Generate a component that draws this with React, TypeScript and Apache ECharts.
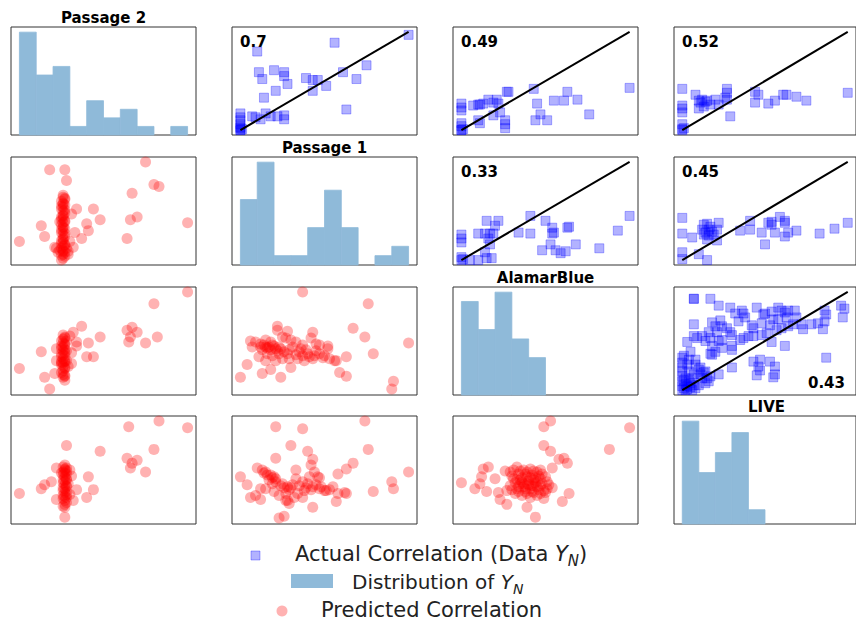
import React, { useEffect, useRef } from "react";
import * as echarts from "echarts";

// Variables of the scatter matrix (row/column order)
const VARIABLES = ["Passage 2", "Passage 1", "AlamarBlue", "LIVE"];

// Histogram bin edges (scaled units) and counts per variable
const BIN_EDGES = [0, 0.1, 0.2, 0.3, 0.4, 0.5, 0.6, 0.7, 0.8, 0.9, 1.0];
const HIST_PASSAGE2 = [12, 7, 8, 1, 4, 2, 3, 1, 0, 1];
const HIST_PASSAGE1 = [7, 11, 1, 1, 4, 8, 4, 0, 1, 2];
const HIST_ALAMAR = [10, 7, 11, 6, 4, 0, 0, 0, 0, 0];
const HIST_LIVE = [36, 18, 25, 32, 5, 0, 0, 0, 0, 0];

// Actual data pairs [column variable, row variable], scaled 0..1
const ACTUAL_P2_VS_P1: number[][] = [
  [1.0, 0.97], [0.56, 0.89], [0.1, 0.8], [0.11, 0.59], [0.13, 0.52], [0.2, 0.61], [0.26, 0.59],
  [0.26, 0.55], [0.28, 0.47], [0.21, 0.4], [0.14, 0.33], [0.39, 0.53], [0.43, 0.51], [0.46, 0.51],
  [0.43, 0.4], [0.51, 0.45], [0.61, 0.59], [0.69, 0.52], [0.75, 0.66], [0.63, 0.21], [0, 0.17],
  [0, 0.13], [0, 0.1], [0, 0.06], [0, 0.03], [0, 0], [0, 0], [0.01, 0.01], [0.07, 0.14],
  [0.12, 0.11], [0.15, 0.17], [0.18, 0.14], [0.22, 0.14], [0.26, 0.15], [0.26, 0.11], [0.09, 0.13],
  [0, 0.02],
];
const ACTUAL_P2_VS_AB: number[][] = [
  [1.0, 0.43], [0, 0.27], [0, 0.23], [0, 0.2], [0, 0.07], [0, 0.04], [0, 0], [0, 0], [0.01, 0.01],
  [0.07, 0.25], [0.1, 0.26], [0.13, 0.27], [0.16, 0.31], [0.21, 0.31], [0.22, 0.27], [0.23, 0.18],
  [0.19, 0.15], [0.1, 0.1], [0.11, 0.07], [0.27, 0.39], [0.28, 0.39], [0.26, 0.1], [0.26, 0.06],
  [0.26, 0.02], [0.43, 0.42], [0.45, 0.27], [0.47, 0.16], [0.44, 0.1], [0.51, 0.1], [0.55, 0.3],
  [0.61, 0.3], [0.63, 0.39], [0.69, 0.31], [0.76, 0.16], [0.11, 0.26], [0.19, 0.28],
];
const ACTUAL_P2_VS_LIVE: number[][] = [
  [0, 0.42], [0, 0.25], [0, 0.22], [0, 0.18], [0, 0.06], [0, 0.01], [0, 0], [0.08, 0.36],
  [0.1, 0.3], [0.12, 0.31], [0.14, 0.29], [0.1, 0.22], [0.13, 0.24], [0.17, 0.26], [0.2, 0.31],
  [0.22, 0.26], [0.27, 0.42], [0.27, 0.38], [0.26, 0.33], [0.27, 0.31], [0.29, 0.14], [0.44, 0.39],
  [0.46, 0.36], [0.44, 0.28], [0.52, 0.27], [0.56, 0.3], [0.61, 0.36], [0.63, 0.36], [0.69, 0.34],
  [0.75, 0.3], [1.0, 0.38], [0.11, 0.28], [0.15, 0.3], [0.01, 0.02],
];
const ACTUAL_P1_VS_AB: number[][] = [
  [1.0, 0.45], [0, 0.26], [0, 0.22], [0, 0.18], [0, 0.03], [0, 0], [0.05, 0], [0.1, 0],
  [0.15, 0.4], [0.22, 0.4], [0.2, 0.35], [0.1, 0.27], [0.14, 0.27], [0.17, 0.27], [0.19, 0.27],
  [0.16, 0.22], [0.17, 0.16], [0.14, 0.08], [0.15, 0.02], [0.18, 0.02], [0.34, 0.28], [0.41, 0.27],
  [0.41, 0.45], [0.5, 0.4], [0.54, 0.33], [0.54, 0.27], [0.55, 0.28], [0.63, 0.33], [0.64, 0.34],
  [0.53, 0.16], [0.48, 0.1], [0.56, 0.1], [0.59, 0.07], [0.62, 0.09], [0.68, 0.16], [0.82, 0.12],
  [0.93, 0.3], [0.01, 0.01],
];
const ACTUAL_P1_VS_LIVE: number[][] = [
  [0, 0.43], [0, 0.27], [0, 0.08], [0, 0.01], [0.06, 0.23], [0.1, 0.06], [0.15, 0], [0.13, 0.36],
  [0.15, 0.37], [0.17, 0.34], [0.12, 0.31], [0.14, 0.28], [0.16, 0.31], [0.18, 0.29], [0.21, 0.31],
  [0.13, 0.26], [0.16, 0.25], [0.19, 0.26], [0.15, 0.21], [0.21, 0.2], [0.22, 0.38], [0.35, 0.3],
  [0.41, 0.4], [0.41, 0.31], [0.48, 0.28], [0.5, 0.16], [0.52, 0.38], [0.54, 0.36], [0.54, 0.39],
  [0.59, 0.44], [0.62, 0.4], [0.62, 0.38], [0.56, 0.28], [0.62, 0.24], [0.64, 0.28], [0.69, 0.3],
  [0.83, 0.27], [0.92, 0.32], [1.0, 0.38],
];
const ACTUAL_AB_VS_LIVE: number[][] = [
  [0.07, 0.93], [0.07, 0.93], [0.17, 0.93], [0.22, 0.86], [0.29, 0.84], [0.32, 0.78], [0.36, 0.81],
  [0.37, 0.78], [0.34, 0.7], [0.38, 0.74], [0.45, 0.84], [0.49, 0.77], [0.5, 0.78], [0.54, 0.8],
  [0.58, 0.84], [0.6, 0.81], [0.62, 0.79], [0.64, 0.81], [0.68, 0.81], [0.63, 0.74], [0.69, 0.74],
  [0.55, 0.72], [0.58, 0.72], [0.86, 0.81], [0.87, 0.77], [0.96, 0.86], [0.98, 0.83], [0.97, 0.74],
  [0.86, 0.7], [0.82, 0.68], [0.78, 0.67], [0.72, 0.67], [0.73, 0.62], [0.64, 0.65], [0.67, 0.67],
  [0.6, 0.63], [0.57, 0.61], [0.53, 0.66], [0.48, 0.68], [0.51, 0.58], [0.48, 0.56], [0.54, 0.49],
  [0.62, 0.45], [0.85, 0.62], [0.43, 0.63], [0.42, 0.66], [0.4, 0.55], [0.43, 0.55], [0.37, 0.53],
  [0.35, 0.51], [0.3, 0.56], [0.29, 0.59], [0.27, 0.63], [0.24, 0.65], [0.23, 0.71], [0.18, 0.69],
  [0.2, 0.65], [0.07, 0.67], [0.21, 0.59], [0.16, 0.59], [0.17, 0.53], [0.12, 0.55], [0.07, 0.55],
  [0.09, 0.53], [0.03, 0.49], [0.14, 0.5], [0.22, 0.5], [0.24, 0.51], [0.18, 0.45], [0.3, 0.45],
  [0.3, 0.41], [0.05, 0.39], [0.01, 0.35], [0.2, 0.39], [0.17, 0.37], [0.18, 0.36], [0.24, 0.43],
  [0.3, 0.23], [0.22, 0.16], [0.13, 0.18], [0.43, 0.29], [0.47, 0.31], [0.46, 0.24], [0.47, 0.2],
  [0.45, 0.15], [0.53, 0.29], [0.56, 0.24], [0.56, 0.16], [0.55, 0.13], [0.87, 0.33],
  [0, 0.33], [0, 0.28], [0, 0.23], [0, 0.19], [0, 0.14], [0, 0.09], [0, 0.04], [0, 0],
  [0.03, 0.26], [0.04, 0.19], [0.06, 0.12], [0.05, 0.07], [0.03, 0.04], [0.02, 0], [0.08, 0.26],
  [0.1, 0.21], [0.11, 0.16], [0.12, 0.12], [0.1, 0.05], [0.08, 0.02], [0.06, 0], [0.14, 0.19],
  [0.15, 0.12], [0.14, 0.07], [0.16, 0.09], [0.17, 0.14], [0.04, 0.31], [0.08, 0.31], [0.02, 0.12],
  [0.07, 0.16], [0.11, 0.23], [0.01, 0.02], [0.03, 0.01], [0.05, 0.03], [0.02, 0.06], [0.04, 0.09],
  [0.07, 0.05], [0.01, 0.1],
];

// Predicted pairs [column variable, row variable], scaled 0..1
const PRED_P1_VS_P2: number[][] = [
  [0.26, 0.66], [0.26, 0.64], [0.27, 0.62], [0.25, 0.6], [0.26, 0.58], [0.27, 0.56], [0.26, 0.54],
  [0.25, 0.52], [0.26, 0.5], [0.27, 0.48], [0.26, 0.46], [0.25, 0.44], [0.26, 0.42], [0.27, 0.4],
  [0.26, 0.38], [0.25, 0.36], [0.26, 0.34], [0.27, 0.32], [0.26, 0.3], [0.25, 0.28], [0.26, 0.26],
  [0.27, 0.24], [0.26, 0.22], [0.25, 0.2], [0.26, 0.18], [0.27, 0.16], [0.26, 0.14], [0.25, 0.12],
  [0.26, 0.1], [0.27, 0.08], [0.26, 0.06], [0.25, 0.05], [0.27, 0.63], [0.26, 0.57], [0.27, 0.51],
  [0.26, 0.45], [0.27, 0.39], [0.26, 0.33], [0.27, 0.27], [0.26, 0.21], [0.27, 0.15], [0.26, 0.09],
  [0.25, 0.55], [0.25, 0.41], [0.25, 0.31], [0.25, 0.17], [0.28, 0.12], [0.23, 0.08], [0.29, 0.09],
  [0.22, 0.12], [0.27, 0.04], [0.26, 0.02],
  [0, 0.19], [0.18, 0.92], [0.27, 0.92], [0.28, 0.81], [0.75, 1.0], [0.8, 0.77], [0.83, 0.75],
  [0.67, 0.68], [1.0, 0.38], [0.66, 0.41], [0.7, 0.44], [0.64, 0.22], [0.48, 0.41], [0.44, 0.52],
  [0.4, 0.37], [0.41, 0.3], [0.37, 0.22], [0.34, 0.52], [0.33, 0.28], [0.13, 0.35], [0.15, 0.24],
  [0.24, 0.39], [0.25, 0], [0.21, 0.13], [0.32, 0.13], [0.29, 0.06], [0.24, 0.1], [0.3, 0.19],
  [0.31, 0.47],
];
const PRED_AB_VS_P2: number[][] = [
  [0.26, 0.56], [0.27, 0.54], [0.26, 0.52], [0.25, 0.5], [0.26, 0.48], [0.27, 0.46], [0.26, 0.44],
  [0.25, 0.42], [0.26, 0.4], [0.27, 0.38], [0.26, 0.36], [0.25, 0.34], [0.26, 0.32], [0.27, 0.3],
  [0.26, 0.28], [0.25, 0.26], [0.26, 0.24], [0.27, 0.22], [0.26, 0.2], [0.25, 0.18], [0.26, 0.16],
  [0.27, 0.14], [0.27, 0.53], [0.27, 0.47], [0.27, 0.41], [0.27, 0.35], [0.27, 0.29], [0.27, 0.23],
  [0.25, 0.45], [0.25, 0.37], [0.25, 0.29], [0.28, 0.5], [0.28, 0.4], [0.28, 0.3],
  [0, 0.22], [0.18, 0.01], [0.15, 0.13], [0.13, 0.39], [0.21, 0.17], [0.22, 0.42], [0.22, 0.3],
  [0.27, 0.1], [0.27, 0.15], [0.32, 0.59], [0.37, 0.65], [0.34, 0.49], [0.34, 0.45], [0.41, 0.48],
  [0.4, 0.34], [0.44, 0.34], [0.48, 0.54], [0.64, 0.61], [0.67, 0.64], [0.7, 0.59], [0.65, 0.49],
  [0.66, 0.54], [0.75, 0.48], [0.82, 0.54], [0.8, 0.88], [1.0, 1.0], [0.3, 0.55], [0.31, 0.38],
  [0.25, 0.28], [0.29, 0.24], [0.26, 0.13], [0.31, 0.27],
];
const PRED_LIVE_VS_P2: number[][] = [
  [0.27, 0.55], [0.26, 0.53], [0.27, 0.51], [0.28, 0.49], [0.27, 0.47], [0.26, 0.45], [0.27, 0.43],
  [0.28, 0.41], [0.27, 0.39], [0.26, 0.37], [0.27, 0.35], [0.28, 0.33], [0.27, 0.31], [0.26, 0.29],
  [0.27, 0.27], [0.28, 0.25], [0.27, 0.23], [0.26, 0.21], [0.27, 0.19], [0.28, 0.17], [0.27, 0.15],
  [0.26, 0.13], [0.27, 0.12], [0.28, 0.52], [0.28, 0.46], [0.28, 0.4], [0.28, 0.34], [0.28, 0.28],
  [0.28, 0.22], [0.26, 0.48], [0.26, 0.4], [0.26, 0.32], [0.26, 0.24], [0.27, 0.5],
  [0, 0.26], [0.65, 0.94], [0.83, 1.0], [1.0, 0.93], [0.28, 0.75], [0.48, 0.69], [0.8, 0.71],
  [0.64, 0.62], [0.67, 0.57], [0.7, 0.6], [0.66, 0.52], [0.75, 0.48], [0.41, 0.43], [0.44, 0.3],
  [0.4, 0.22], [0.27, 0.02], [0.13, 0.31], [0.15, 0.35], [0.19, 0.38], [0.22, 0.52], [0.22, 0.2],
  [0.32, 0.19], [0.34, 0.3], [0.31, 0.44], [0.3, 0.5], [0.25, 0.47], [0.29, 0.36], [0.3, 0.25],
];
const PRED_AB_VS_P1: number[][] = [
  [0.37, 1.0], [0.76, 0.88], [0.67, 0.63], [0.74, 0.54], [0.79, 0.37], [1.0, 0.48], [0.91, 0.09],
  [0.9, 0.01], [0, 0.13], [0.04, 0.26], [0.13, 0.17], [0.24, 0.13], [0.18, 0.21], [0.3, 0.23],
  [0.06, 0.5], [0.22, 0.65], [0.22, 0.61], [0.28, 0.6], [0.27, 0.53], [0.43, 0.59], [0.42, 0.53],
  [0.45, 0.47], [0.59, 0.18], [0.63, 0.14], [0.63, 0.34], [0.57, 0.3],
  [0.09, 0.49], [0.12, 0.47], [0.15, 0.51], [0.17, 0.44], [0.19, 0.46], [0.21, 0.42], [0.23, 0.44],
  [0.13, 0.41], [0.16, 0.37], [0.19, 0.35], [0.23, 0.37], [0.26, 0.39], [0.29, 0.41], [0.31, 0.44],
  [0.3, 0.51], [0.33, 0.49], [0.35, 0.39], [0.37, 0.35], [0.39, 0.41], [0.41, 0.34], [0.44, 0.35],
  [0.47, 0.37], [0.5, 0.35], [0.52, 0.42], [0.53, 0.32], [0.56, 0.3], [0.15, 0.3], [0.21, 0.3],
  [0.25, 0.32], [0.11, 0.34], [0.29, 0.32], [0.34, 0.32], [0.38, 0.3], [0.43, 0.32], [0.07, 0.44],
  [0.18, 0.49], [0.25, 0.54], [0.37, 0.46], [0.47, 0.46], [0.52, 0.45],
  [0.14, 0.46], [0.16, 0.43], [0.18, 0.41], [0.2, 0.45], [0.15, 0.44], [0.12, 0.44], [0.22, 0.4],
  [0.24, 0.42], [0.28, 0.37], [0.33, 0.36], [0.36, 0.42], [0.4, 0.37], [0.45, 0.4], [0.49, 0.33],
];
const PRED_LIVE_VS_P1: number[][] = [
  [0.74, 1.0], [0.21, 0.94], [0.37, 0.92], [0.3, 0.75], [0.4, 0.69], [0.76, 0.71], [0.21, 0.62],
  [0.43, 0.61], [0.42, 0.55], [0.67, 0.57], [0.63, 0.51], [0.58, 0.46], [1.0, 0.48], [0.9, 0.38],
  [0.91, 0.31], [0.79, 0.28], [0, 0.43], [0.04, 0.35], [0.06, 0.22], [0.12, 0.2], [0.23, 0.01],
  [0.26, 0.03], [0.43, 0.12], [0.57, 0.18], [0.63, 0.26], [0.62, 0.27], [0.51, 0.29], [0.53, 0.3],
  [0.1, 0.52], [0.13, 0.5], [0.15, 0.48], [0.18, 0.45], [0.2, 0.43], [0.17, 0.4], [0.21, 0.38],
  [0.25, 0.36], [0.28, 0.33], [0.3, 0.32], [0.27, 0.26], [0.23, 0.24], [0.2, 0.28], [0.15, 0.31],
  [0.12, 0.31], [0.09, 0.24], [0.27, 0.19], [0.29, 0.16], [0.28, 0.19], [0.33, 0.5], [0.33, 0.41],
  [0.37, 0.38], [0.39, 0.32], [0.38, 0.29], [0.41, 0.43], [0.44, 0.48], [0.46, 0.43], [0.47, 0.42],
  [0.34, 0.26], [0.37, 0.22], [0.32, 0.22], [0.43, 0.33], [0.47, 0.31], [0.5, 0.29], [0.55, 0.33],
  [0.58, 0.26],
  [0.14, 0.47], [0.16, 0.45], [0.19, 0.42], [0.21, 0.41], [0.24, 0.34], [0.26, 0.32], [0.29, 0.3],
  [0.31, 0.35], [0.35, 0.34], [0.4, 0.36], [0.45, 0.35], [0.48, 0.33], [0.19, 0.36], [0.42, 0.3],
];
const PRED_LIVE_VS_AB: number[][] = [
  [0.53, 1.0], [0.49, 0.94], [1.0, 0.93], [0.88, 0.71], [0.49, 0.75], [0.53, 0.69], [0.58, 0.61],
  [0.61, 0.62], [0.63, 0.57], [0.54, 0.52], [0.64, 0.26], [0.6, 0.18], [0.44, 0.02], [0.39, 0.12],
  [0, 0.37], [0.08, 0.31], [0.11, 0.36], [0.12, 0.43], [0.13, 0.51], [0.16, 0.53], [0.15, 0.28],
  [0.22, 0.27], [0.23, 0.2], [0.27, 0.15], [0.2, 0.41], [0.26, 0.49],
  [0.29, 0.48], [0.33, 0.53], [0.37, 0.5], [0.41, 0.51], [0.45, 0.48], [0.48, 0.46], [0.31, 0.41],
  [0.35, 0.4], [0.39, 0.43], [0.43, 0.4], [0.47, 0.41], [0.51, 0.38], [0.54, 0.32], [0.29, 0.34],
  [0.33, 0.31], [0.37, 0.33], [0.41, 0.31], [0.45, 0.33], [0.49, 0.29], [0.32, 0.26], [0.36, 0.24],
  [0.41, 0.22], [0.45, 0.24], [0.49, 0.21], [0.27, 0.29], [0.35, 0.36], [0.39, 0.36], [0.43, 0.34],
  [0.47, 0.34], [0.51, 0.31], [0.38, 0.28], [0.42, 0.28],
  [0.3, 0.44], [0.34, 0.46], [0.38, 0.46], [0.42, 0.45], [0.46, 0.44], [0.5, 0.43], [0.32, 0.37],
  [0.36, 0.38], [0.4, 0.39], [0.44, 0.37], [0.48, 0.36], [0.52, 0.35], [0.3, 0.3], [0.34, 0.33],
  [0.38, 0.31], [0.42, 0.34], [0.46, 0.3], [0.5, 0.27], [0.34, 0.28], [0.39, 0.26], [0.43, 0.27],
  [0.47, 0.26], [0.31, 0.5], [0.35, 0.49], [0.39, 0.48], [0.43, 0.49], [0.47, 0.5], [0.36, 0.42],
  [0.4, 0.35], [0.44, 0.42], [0.33, 0.4], [0.41, 0.42], [0.45, 0.38], [0.37, 0.36],
];

// Correlation coefficients of the actual data panels
const CORR_P2_P1 = "0.7";
const CORR_P2_AB = "0.49";
const CORR_P2_LIVE = "0.52";
const CORR_P1_AB = "0.33";
const CORR_P1_LIVE = "0.45";
const CORR_AB_LIVE = "0.43";

// Identity reference line drawn in the actual-data panels
const FIT_LINE = [[0, 0], [1, 1]];

const FONT = "'DejaVu Sans', sans-serif";
const GRID_LEFT = [11, 232, 453, 674];
const GRID_TOP = [27, 157, 287, 416];
const GRID_W = 185;
const GRID_H = 108;

const HISTS = [HIST_PASSAGE2, HIST_PASSAGE1, HIST_ALAMAR, HIST_LIVE];

type Cell = { kind: "hist" | "actual" | "pred"; data?: number[][]; corr?: string; corrPos?: "tl" | "br" };

const CELLS: Cell[][] = [
  [{ kind: "hist" }, { kind: "actual", data: ACTUAL_P2_VS_P1, corr: CORR_P2_P1 }, { kind: "actual", data: ACTUAL_P2_VS_AB, corr: CORR_P2_AB }, { kind: "actual", data: ACTUAL_P2_VS_LIVE, corr: CORR_P2_LIVE }],
  [{ kind: "pred", data: PRED_P1_VS_P2 }, { kind: "hist" }, { kind: "actual", data: ACTUAL_P1_VS_AB, corr: CORR_P1_AB }, { kind: "actual", data: ACTUAL_P1_VS_LIVE, corr: CORR_P1_LIVE }],
  [{ kind: "pred", data: PRED_AB_VS_P2 }, { kind: "pred", data: PRED_AB_VS_P1 }, { kind: "hist" }, { kind: "actual", data: ACTUAL_AB_VS_LIVE, corr: CORR_AB_LIVE, corrPos: "br" }],
  [{ kind: "pred", data: PRED_LIVE_VS_P2 }, { kind: "pred", data: PRED_LIVE_VS_P1 }, { kind: "pred", data: PRED_LIVE_VS_AB }, { kind: "hist" }],
];

const BLUE = "rgba(0,0,255,0.3)";
const RED = "rgba(255,0,0,0.3)";
const HIST_COLOR = "#8fbad9";

function buildOption() {
  const grid: any[] = [];
  const xAxis: any[] = [];
  const yAxis: any[] = [];
  const series: any[] = [];
  const graphic: any[] = [];

  for (let r = 0; r < 4; r++) {
    for (let c = 0; c < 4; c++) {
      const idx = r * 4 + c;
      const cell = CELLS[r][c];
      const left = GRID_LEFT[c];
      const top = GRID_TOP[r];
      grid.push({
        left, top, width: GRID_W, height: GRID_H,
        show: true, borderColor: "#333", borderWidth: 1, backgroundColor: "transparent",
        containLabel: false,
      });
      const hidden = { show: false };
      xAxis.push({ type: "value", gridIndex: idx, min: -0.05, max: 1.05, ...hidden, splitLine: { show: false } });
      if (cell.kind === "hist") {
        const counts = HISTS[r];
        const maxC = Math.max(...counts);
        yAxis.push({ type: "value", gridIndex: idx, min: 0, max: maxC * 1.05, ...hidden, splitLine: { show: false } });
        series.push({
          type: "custom",
          xAxisIndex: idx,
          yAxisIndex: idx,
          data: counts.map((n, k) => [BIN_EDGES[k], BIN_EDGES[k + 1], n]),
          encode: { x: [0, 1], y: 2 },
          renderItem: (params: any, api: any) => {
            if (api.value(2) <= 0) return null;
            const p0 = api.coord([api.value(0), api.value(2)]);
            const p1 = api.coord([api.value(1), 0]);
            return {
              type: "rect",
              shape: { x: p0[0], y: p0[1], width: p1[0] - p0[0], height: p1[1] - p0[1] },
              style: { fill: HIST_COLOR, stroke: HIST_COLOR, lineWidth: 0.8 },
            };
          },
        });
        graphic.push({
          type: "text",
          x: left + GRID_W / 2,
          y: top - 9,
          style: {
            text: VARIABLES[r], fill: "#000", fontFamily: FONT, fontWeight: "bold", fontSize: 15,
            align: "center", verticalAlign: "middle",
          },
        });
      } else {
        yAxis.push({ type: "value", gridIndex: idx, min: -0.05, max: 1.05, ...hidden, splitLine: { show: false } });
        if (cell.kind === "actual") {
          series.push({
            type: "scatter", xAxisIndex: idx, yAxisIndex: idx, data: cell.data,
            symbol: "rect", symbolSize: 9,
            itemStyle: { color: BLUE, borderColor: BLUE, borderWidth: 1, opacity: 1 },
          });
          series.push({
            type: "line", xAxisIndex: idx, yAxisIndex: idx, data: FIT_LINE,
            symbol: "none", lineStyle: { color: "#000", width: 2 },
          });
          const br = cell.corrPos === "br";
          graphic.push({
            type: "text",
            x: br ? left + GRID_W - 14 : left + 8,
            y: br ? top + 96 : top + 15,
            style: {
              text: cell.corr, fill: "#000", fontFamily: FONT, fontWeight: "bold", fontSize: 15,
              align: br ? "right" : "left", verticalAlign: "middle",
            },
          });
        } else {
          series.push({
            type: "scatter", xAxisIndex: idx, yAxisIndex: idx, data: cell.data,
            symbol: "circle", symbolSize: 11,
            itemStyle: { color: RED, opacity: 1 },
          });
        }
      }
    }
  }

  // Legend below the matrix
  const richSub = (size: number) => ({
    it: { fontStyle: "italic", fontSize: size, fontFamily: FONT, fill: "#222", lineHeight: 28 },
    sub: { fontStyle: "italic", fontSize: Math.round(size * 0.7), fontFamily: FONT, fill: "#222", lineHeight: 12, verticalAlign: "bottom" },
  });
  graphic.push(
    { type: "rect", shape: { x: 251, y: 551, width: 9, height: 9 }, style: { fill: BLUE, stroke: BLUE, lineWidth: 1 } },
    {
      type: "text", x: 295, y: 554,
      style: {
        text: "Actual Correlation (Data {it|Y}{sub|N})", rich: richSub(21), fill: "#222",
        fontFamily: FONT, fontSize: 21, lineHeight: 28, align: "left", verticalAlign: "middle",
      },
    },
    { type: "rect", shape: { x: 291, y: 574, width: 42, height: 14 }, style: { fill: HIST_COLOR } },
    {
      type: "text", x: 352, y: 582,
      style: {
        text: "Distribution of {it|Y}{sub|N}", rich: richSub(20), fill: "#222",
        fontFamily: FONT, fontSize: 20, lineHeight: 28, align: "left", verticalAlign: "middle",
      },
    },
    { type: "circle", shape: { cx: 282, cy: 611, r: 5.5 }, style: { fill: RED } },
    {
      type: "text", x: 321, y: 610,
      style: {
        text: "Predicted Correlation", fill: "#222", fontFamily: FONT, fontSize: 21, lineHeight: 20,
        align: "left", verticalAlign: "middle",
      },
    }
  );

  return {
    animation: false,
    backgroundColor: "#fff",
    grid, xAxis, yAxis, series, graphic,
  };
}

export default function App() {
  const ref = useRef<HTMLDivElement>(null);
  useEffect(() => {
    if (!ref.current) return;
    const chart = echarts.init(ref.current, undefined, { renderer: "svg" });
    chart.setOption(buildOption() as any);
    return () => chart.dispose();
  }, []);
  return (
    <div
      ref={ref}
      style={{ position: "fixed", left: 0, top: 0, width: 856, height: 621, background: "#fff" }}
    />
  );
}
